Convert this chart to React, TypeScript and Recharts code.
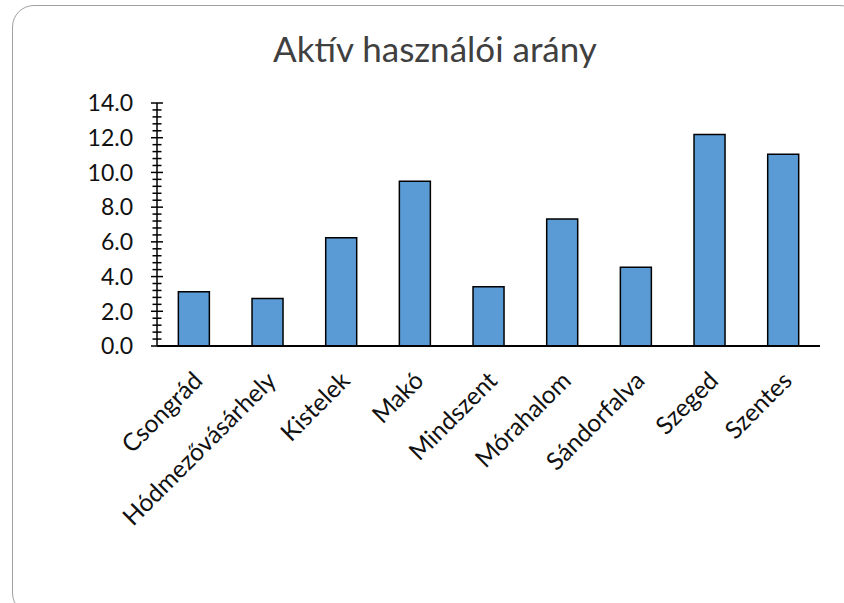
import React from 'react';
import { BarChart, Bar, XAxis, YAxis } from 'recharts';

const towns = [
  'Csongrád',
  'Hódmezővásárhely',
  'Kistelek',
  'Makó',
  'Mindszent',
  'Mórahalom',
  'Sándorfalva',
  'Szeged',
  'Szentes',
];

const activeRate = [3.12, 2.74, 6.23, 9.49, 3.41, 7.31, 4.53, 12.19, 11.05];

const majorTicks = [0, 2, 4, 6, 8, 10, 12, 14];
const minorStep = 0.4;

const data = towns.map((name, i) => ({ name, value: activeRate[i] }));

// one tick every 0.4, only the multiples of 2 get a label
const allTicks = Array.from({ length: 36 }, (_, i) => Math.round(i * minorStep * 10) / 10);

const FONT = 'Lato, "Open Sans", sans-serif';

const YTick = (props: any) => {
  const { x, y, payload } = props;
  const v = payload.value as number;
  const isMajor = majorTicks.some((m) => Math.abs(m - v) < 1e-6);
  const half = isMajor ? 6 : 4.5;
  return (
    <g>
      <line x1={x - half} x2={x + half} y1={y} y2={y} stroke="#000" strokeWidth={1.5} />
      {isMajor && (
        <text x={x - 24} y={y} dy="0.36em" textAnchor="end" fontSize={23} fontFamily={FONT} fill="#111">
          {v.toFixed(1)}
        </text>
      )}
    </g>
  );
};

const XTick = (props: any) => {
  const { x, y, payload } = props;
  return (
    <text
      x={0}
      y={0}
      transform={`translate(${x + 4},${y + 30}) rotate(-45)`}
      dy="0.36em"
      textAnchor="end"
      fontSize={24.5}
      fontFamily={FONT}
      fill="#111"
    >
      {payload.value}
    </text>
  );
};

export default function App() {
  return (
    <div
      style={{
        position: 'absolute',
        left: 0,
        top: 0,
        width: 844,
        height: 603,
        overflow: 'hidden',
        background: '#fff',
      }}
    >
      <div
        style={{
          position: 'absolute',
          left: 12,
          top: 5,
          width: 850,
          height: 610,
          border: '1.5px solid #a0a0a0',
          borderRadius: 22,
          boxSizing: 'border-box',
        }}
      />
      <div
        style={{
          position: 'absolute',
          left: 0,
          top: 27,
          width: 870,
          textAlign: 'center',
          fontFamily: FONT,
          fontSize: 35,
          color: '#404040',
        }}
      >
        Aktív használói arány
      </div>
      <div style={{ position: 'absolute', left: 0, top: 0 }}>
        <BarChart
          width={844}
          height={603}
          data={data}
          margin={{ top: 103, right: 24, left: 97, bottom: 227 }}
          barCategoryGap="29%"
        >
          <XAxis
            dataKey="name"
            interval={0}
            tickLine={false}
            tickSize={0}
            tickMargin={0}
            height={30}
            axisLine={{ stroke: '#000', strokeWidth: 2 }}
            tick={<XTick />}
          />
          <YAxis
            width={60}
            domain={[0, 14]}
            ticks={allTicks}
            interval={0}
            tickLine={false}
            tickSize={0}
            tickMargin={0}
            axisLine={{ stroke: '#000', strokeWidth: 1.5 }}
            tick={<YTick />}
          />
          <Bar
            dataKey="value"
            fill="#5B9BD5"
            stroke="#000"
            strokeWidth={1.5}
            isAnimationActive={false}
          />
        </BarChart>
      </div>
    </div>
  );
}
